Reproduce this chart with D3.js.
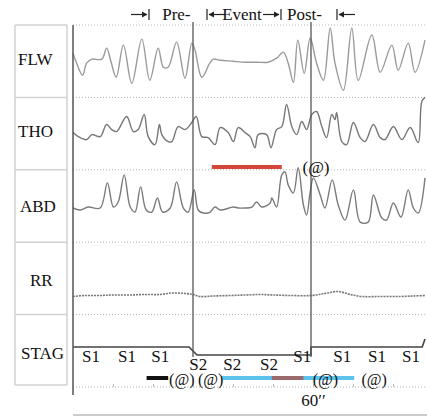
<!DOCTYPE html>
<html>
<head>
<meta charset="utf-8">
<script src="https://cdn.jsdelivr.net/npm/d3@7"></script>
<style>
  body { margin: 0; background: #fff; }
  svg { display: block; }
  text { font-family: "Liberation Serif", "DejaVu Serif", serif; font-size: 17px; fill: #111; }
</style>
</head>
<body>
<script>
// channels, top to bottom
const channels = ["FLW", "THO", "ABD", "RR", "STAG"];

// traces: [seconds, amplitude]
const flw = [[0,8],[0.9,-2],[2.4,-14],[3.4,-2],[4.7,2],[7.2,2],[8.4,13],[9.4,1],[10.8,-16],[12.6,16],[14.7,-22],[17.2,22],[19.2,-19],[21.3,13],[22.6,-6],[23.8,-6],[25.9,19],[28,-17],[29.7,18],[30.5,11],[32.2,-16],[34.2,-2],[35.1,2],[36.8,1],[40,0],[43,-1],[46,-1],[48.8,-1],[50.9,3],[52.6,9],[53.8,-2],[55.1,-21],[56.2,21],[57.8,-12],[59.3,23],[60.9,-2],[62.6,-19],[64.3,33],[65.5,-2],[67.6,-29],[69.7,33],[71.3,-19],[74.7,26],[76.8,-11],[79.7,16],[81.3,-9],[83.8,18],[85.5,-11],[88,21]];
const tho = [[0,1],[1.3,-3],[3.4,-6],[4.7,-1],[6.8,-3],[8.4,9],[9.7,4],[10.9,2],[13.4,17],[15.1,2],[16.3,4],[17.8,19],[18.8,-3],[20.5,-11],[21.6,9],[22.2,-1],[23.8,-8],[24.7,-8],[26.3,7],[28,4],[29.7,11],[30.8,17],[32.2,-3],[33.8,-4],[35.5,-11],[36.8,6],[38.8,1],[40.1,-8],[41.3,6],[43,1],[44.3,-3],[45.5,-14],[46.3,-1],[48.4,-1],[49.5,-14],[50.9,4],[52.2,7],[53.4,29],[54.7,7],[55.9,-1],[57.2,12],[58.4,4],[59.7,19],[60.9,22],[62.2,7],[63.4,-4],[64.7,19],[65.5,14],[65.9,21],[67.2,-8],[68.4,-11],[70.1,11],[71.8,-4],[73,-8],[75.1,9],[76.8,-4],[78,-6],[80.1,7],[82.2,-6],[84.3,6],[86.3,-9],[87.2,32],[88,36]];
const abd = [[0,-2],[1.8,-4],[3.8,-1],[6.8,-2],[8.6,23],[10.1,-1],[11.3,4],[12.8,31],[14.3,-1],[15.5,-6],[16.9,19],[18.3,-4],[19.7,-6],[21.1,8],[22.4,-6],[24.3,-2],[25.9,24],[27.6,-2],[28.8,-6],[30.3,16],[31.3,-4],[32.6,-7],[34.3,-6],[35.5,-1],[36.8,-4],[40.1,-1],[41.3,-2],[43,-2],[44.7,-1],[45.9,4],[47.2,-1],[49.3,3],[49.7,8],[50.9,-1],[52.2,31],[53,34],[53.8,21],[55.1,13],[56.3,38],[57.6,1],[58.4,-9],[59.3,14],[60.1,28],[61.8,11],[63,-2],[64.8,26],[66.3,1],[68,-14],[70.1,16],[71.8,-16],[73.8,-16],[75.1,11],[77.2,-12],[78.4,-14],[80.1,3],[82,-11],[83.8,16],[85.1,-2],[86.3,-7],[88,28]];
const rr = [[0,-18],[3,-17],[6.8,-17],[10,-16.5],[14.3,-16.5],[18,-16],[21.8,-16],[24.8,-14.5],[28,-15],[30,-16],[31.8,-18],[35,-17.5],[39.3,-17],[43,-16.5],[46.8,-16],[50,-16.5],[54.3,-17],[59.5,-17],[63,-15],[66.3,-13],[69.3,-16],[72.3,-18],[77,-18],[81.8,-18],[85,-17.5],[88,-17]];

// hypnogram steps: [seconds, level] (0 = higher, 1 = S1, 2 = S2)
const stag = [[0,1],[29,1],[31,2],[59.5,2],[59.5,1],[87.3,1],[88,0]];
const epochTimes = [4.5, 13.5, 21.8, 31.3, 39.8, 49, 57.3, 67.3, 76, 84.5];
const epochStages = ["S1","S1","S1","S2","S2","S2","S1","S1","S1","S1"];

// event window and annotations
const eventStart = 30, eventEnd = 59.5;
const periodEdges = [19, 33.5, 52, 66];
const periodNames = ["Pre-", "Event", "Post-"];
const periodNameTimes = [22.3, 37.3, 53.5];
const desatBar = [34.7, 52.2];
const desatMark = 60.75;
const eventBars = [
  { type: "black", start: 18.4, end: 23.8 },
  { type: "blue", start: 37.2, end: 70.3 },
  { type: "brown", start: 49.7, end: 57.6 }
];
const eventMarks = [27.2, 34.4, 63.1, 75.3];

const W = 427, H = 418;
const svg = d3.select("body").append("svg").attr("width", W).attr("height", H);

const x = d3.scaleLinear().domain([0, 88]).range([73, 425]);
const band = d3.scaleBand().domain(channels).range([25, 387]);
const amp = ch => d3.scaleLinear().domain([-36, 36]).range([band(ch) + band.bandwidth(), band(ch)]);
const stageY = d3.scaleLinear().domain([0, 2]).range([339, 355]);
const barColor = d3.scaleOrdinal().domain(["black", "blue", "brown"]).range(["#111", "#5cc3ec", "#9b6a6c"]);

// left label panel
const panel = svg.append("g").attr("stroke", "#d2d2d2").attr("stroke-width", 1.5);
panel.append("line").attr("x1", 15).attr("x2", 15).attr("y1", 25).attr("y2", 385);
panel.append("line").attr("x1", 67).attr("x2", 67).attr("y1", 25).attr("y2", 385);
panel.selectAll(".sep").data(channels.concat(["end"])).join("line")
  .attr("x1", 15).attr("x2", 67)
  .attr("y1", (d, i) => i < channels.length ? band(d) : 385)
  .attr("y2", (d, i) => i < channels.length ? band(d) : 385);

const labelDy = [40, 40, 42, 44, 44];
const labelX = [18, 18, 20, 30, 21];
svg.selectAll(".chlabel").data(channels).join("text")
  .attr("x", (d, i) => labelX[i])
  .attr("y", (d, i) => band(d) + labelDy[i])
  .text(d => d);

// dotted channel separators
svg.selectAll(".grid").data(channels.concat(["end"])).join("line")
  .attr("x1", 73).attr("x2", 427)
  .attr("y1", (d, i) => i < channels.length ? band(d) : 387)
  .attr("y2", (d, i) => i < channels.length ? band(d) : 387)
  .attr("stroke", "#b5b5b5").attr("stroke-dasharray", "1,2");

// 10 s ticks on the bottom dotted line
svg.append("g").attr("transform", "translate(0,387)")
  .call(d3.axisBottom(x).tickValues(d3.range(10, 88, 10)).tickSize(-3).tickFormat(""))
  .call(g => g.select(".domain").remove())
  .call(g => g.selectAll("line").attr("stroke", "#bbb"));

// traces
const line = ch => d3.line().x(d => x(d[0])).y(d => amp(ch)(d[1])).curve(d3.curveCatmullRom.alpha(0.5));
const traces = [["FLW", flw, "#9a9a9a"], ["THO", tho, "#777"], ["ABD", abd, "#7a7a7a"]];
traces.forEach(([ch, data, c]) => {
  svg.append("path").datum(data).attr("d", line(ch))
    .attr("fill", "none").attr("stroke", c).attr("stroke-width", 1.4);
});
svg.append("path").datum(rr).attr("d", line("RR"))
  .attr("fill", "none").attr("stroke", "#777").attr("stroke-width", 1.6).attr("stroke-dasharray", "2,1");

// hypnogram
svg.append("path").datum(stag)
  .attr("d", d3.line().x(d => x(d[0])).y(d => stageY(d[1])))
  .attr("fill", "none").attr("stroke", "#444").attr("stroke-width", 1.6);

// time borders
svg.append("line").attr("x1", x(0)).attr("x2", x(0)).attr("y1", 25).attr("y2", 395)
  .attr("stroke", "#555").attr("stroke-width", 1.5);
svg.selectAll(".evline").data([eventStart, eventEnd]).join("line")
  .attr("x1", d => x(d)).attr("x2", d => x(d))
  .attr("y1", 22).attr("y2", 357)
  .attr("stroke", "#555").attr("stroke-width", 1.3);

// stage labels
svg.selectAll(".stage").data(epochTimes).join("text")
  .attr("x", d => x(d)).attr("text-anchor", "middle")
  .attr("y", (d, i) => stageY(epochStages[i] === "S2" ? 2 : 1) + 15)
  .text((d, i) => epochStages[i]);

// desaturation bar
svg.append("line").attr("x1", x(desatBar[0])).attr("x2", x(desatBar[1]))
  .attr("y1", 167).attr("y2", 167).attr("stroke", "#d6473b").attr("stroke-width", 4);
svg.append("text").attr("x", x(desatMark)).attr("y", 173).attr("text-anchor", "middle").text("(@)");

// event bars
svg.selectAll(".ebar").data(eventBars).join("line")
  .attr("x1", d => x(d.start)).attr("x2", d => x(d.end))
  .attr("y1", 378).attr("y2", 378)
  .attr("stroke", d => barColor(d.type)).attr("stroke-width", 4);
svg.selectAll(".emark").data(eventMarks).join("text")
  .attr("x", d => x(d)).attr("y", 385).attr("text-anchor", "middle")
  .style("font-size", "16px").text("(@)");

// 60'' label
svg.append("g").attr("transform", "translate(0,391)")
  .call(d3.axisBottom(x).tickValues([60]).tickSize(0).tickFormat(() => "60\u2032\u2032"))
  .call(g => g.select(".domain").remove())
  .call(g => g.selectAll("text").attr("font-size", 17).attr("font-family", "Liberation Serif").attr("fill", "#111"));

// bottom axis line
svg.append("line").attr("x1", 73).attr("x2", 427).attr("y1", 415).attr("y2", 415)
  .attr("stroke", "#bbb").attr("stroke-width", 1.5);

// header: period arrows
const head = svg.append("g").attr("stroke", "#222").attr("fill", "#222");
periodEdges.forEach((t, i) => {
  const bx = x(t), dir = i % 2 === 0 ? -1 : 1; // arrow comes from the left or goes right
  head.append("line").attr("x1", bx).attr("x2", bx).attr("y1", 9).attr("y2", 20).attr("stroke-width", 1.2);
  head.append("line").attr("x1", bx + dir * 2).attr("x2", bx + dir * 18).attr("y1", 14.5).attr("y2", 14.5).attr("stroke-width", 1.2);
  head.append("path").attr("stroke", "none")
    .attr("d", `M${bx + dir * 1.5},14.5 L${bx + dir * 7},11.5 L${bx + dir * 7},17.5 Z`);
});
svg.selectAll(".pname").data(periodNames).join("text")
  .attr("x", (d, i) => x(periodNameTimes[i])).attr("y", 20).text(d => d);
</script>
</body>
</html>
